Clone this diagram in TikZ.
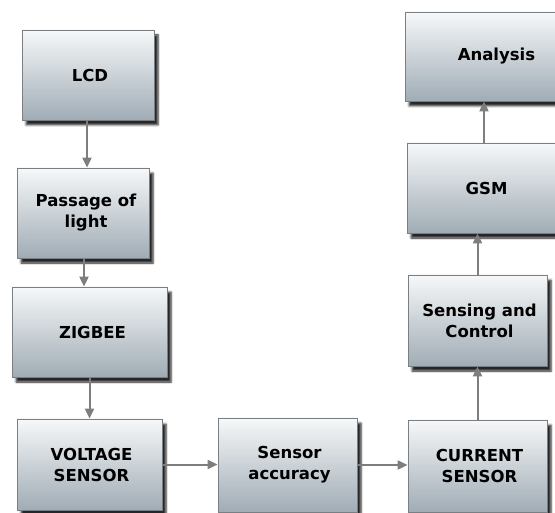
\documentclass[tikz,border=0pt]{standalone}
\usepackage{fontspec}
\setmainfont{DejaVu Sans}
\usetikzlibrary{shadows.blur,arrows.meta}
\definecolor{boxtop}{HTML}{F6F8F9}
\definecolor{boxbot}{HTML}{A0ACB5}
\definecolor{boxline}{HTML}{7A7F84}
\definecolor{arrowcol}{HTML}{7E7E7E}
\tikzset{
  blockbox/.style={rectangle, draw=boxline, line width=0.8pt,
    top color=boxtop, bottom color=boxbot,
    align=center, font=\fontsize{16.5}{21}\selectfont\bfseries, inner sep=0pt,
    blur shadow={shadow xshift=4pt, shadow yshift=-5pt, shadow blur steps=5, shadow opacity=85, shadow blur radius=2pt}},
  link/.style={draw=arrowcol, line width=2pt, -{Triangle[length=10pt,width=9pt]}}
}
\begin{document}
\begin{tikzpicture}[x=1pt,y=-1pt]
\useasboundingbox (0,0) rectangle (555,513);
\node[blockbox, minimum width=132pt, minimum height=90pt] (lcd) at (88,75) {\hspace*{4pt}LCD};
\node[blockbox, minimum width=132pt, minimum height=90pt] (pass) at (83,213) {\hspace*{6pt}Passage of\\\hspace*{6pt}light};
\node[blockbox, minimum width=155pt, minimum height=90pt] (zig) at (89.5,332) {\hspace*{6pt}ZIGBEE};
\node[blockbox, minimum width=145pt, minimum height=91pt] (volt) at (89.5,464.5) {\hspace*{4pt}VOLTAGE\\\hspace*{4pt}SENSOR};
\node[blockbox, minimum width=139pt, minimum height=94pt] (acc) at (287.5,465) {\hspace*{4pt}Sensor\\\hspace*{4pt}accuracy};
\node[blockbox, minimum width=139pt, minimum height=92pt] (cur) at (477.5,466) {\hspace*{4pt}CURRENT\\\hspace*{4pt}SENSOR};
\node[blockbox, minimum width=139pt, minimum height=91pt] (sens) at (477.5,320.5) {\hspace*{4pt}Sensing and\\\hspace*{4pt}Control};
\node[blockbox, minimum width=159pt, minimum height=90pt] (gsm) at (486.5,188) {GSM};
\node[blockbox, minimum width=183pt, minimum height=89pt] (ana) at (496.5,56.5) {Analysis};
\draw[link] ([xshift=-1pt]lcd.south) -- ([xshift=-1pt]lcd.south |- pass.north);
\draw[link] ([xshift=1pt]pass.south) -- ([xshift=1pt]pass.south |- zig.north);
\draw[link] (zig.south) -- (zig.south |- volt.north);
\draw[link] (volt.east) -- (volt.east -| acc.west);
\draw[link] (acc.east) -- (acc.east -| cur.west);
\draw[link] (cur.north) -- (cur.north |- sens.south);
\draw[link] (sens.north) -- (sens.north |- gsm.south);
\draw[link] ([xshift=-2.5pt]gsm.north) -- ([xshift=-2.5pt]gsm.north |- ana.south);
\end{tikzpicture}
\end{document}
